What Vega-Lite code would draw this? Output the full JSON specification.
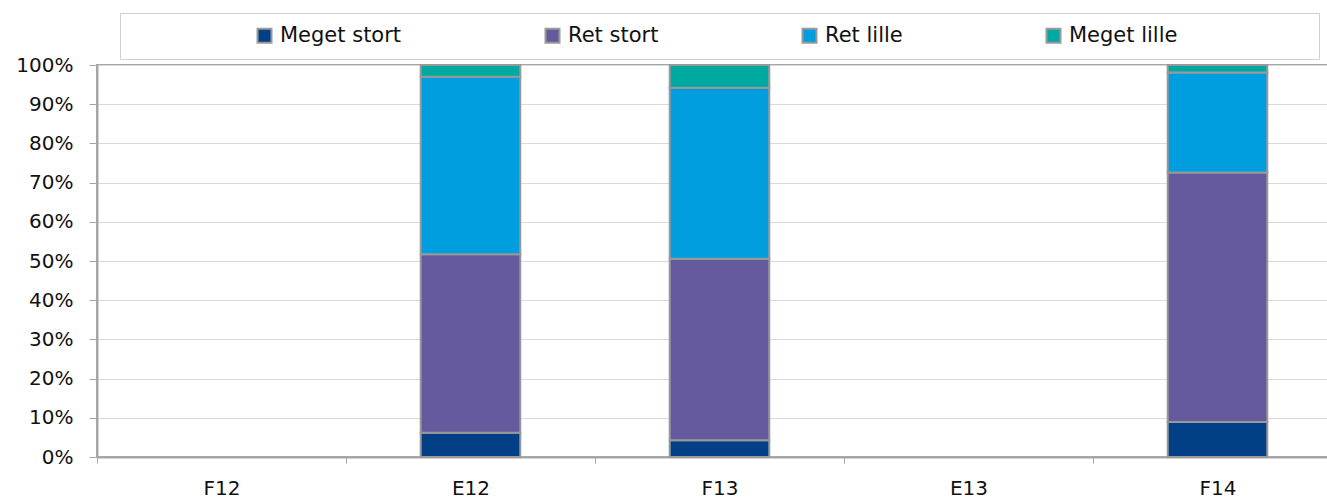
{
  "$schema": "https://vega.github.io/schema/vega-lite/v6.json",
  "autosize": "none",
  "padding": {"left": 97, "top": 65, "right": 0, "bottom": 43},
  "width": 1245,
  "height": 392,
  "background": "white",
  "config": {
    "font": "DejaVu Sans",
    "view": {"stroke": "#a6a6a6", "strokeWidth": 2}
  },
  "data": {
    "values": [
      {"period": "E12", "category": "Meget stort", "value": 0.062},
      {"period": "E12", "category": "Ret stort", "value": 0.455},
      {"period": "E12", "category": "Ret lille", "value": 0.453},
      {"period": "E12", "category": "Meget lille", "value": 0.030},
      {"period": "F13", "category": "Meget stort", "value": 0.043},
      {"period": "F13", "category": "Ret stort", "value": 0.463},
      {"period": "F13", "category": "Ret lille", "value": 0.436},
      {"period": "F13", "category": "Meget lille", "value": 0.058},
      {"period": "F14", "category": "Meget stort", "value": 0.089},
      {"period": "F14", "category": "Ret stort", "value": 0.637},
      {"period": "F14", "category": "Ret lille", "value": 0.255},
      {"period": "F14", "category": "Meget lille", "value": 0.019}
    ]
  },
  "transform": [
    {"calculate": "indexof(['Meget stort','Ret stort','Ret lille','Meget lille'], datum.category)", "as": "order"}
  ],
  "mark": {"type": "bar", "stroke": "#999999", "strokeWidth": 2},
  "encoding": {
    "x": {
      "field": "period",
      "type": "nominal",
      "sort": ["F12", "E12", "F13", "E13", "F14"],
      "scale": {"domain": ["F12", "E12", "F13", "E13", "F14"], "paddingInner": 0.6, "paddingOuter": 0.3},
      "axis": {
        "title": null,
        "labelAngle": 0,
        "labelFont": "DejaVu Sans",
        "labelFontSize": 20,
        "labelColor": "#111111",
        "labelPadding": 15,
        "tickSize": 6,
        "tickColor": "#a6a6a6",
        "tickOffset": -124.5,
        "labelOffset": 124.5,
        "domainColor": "#a6a6a6",
        "domainWidth": 2,
        "grid": false
      }
    },
    "y": {
      "field": "value",
      "type": "quantitative",
      "stack": "zero",
      "scale": {"domain": [0, 1], "nice": false},
      "axis": {
        "title": null,
        "format": ".0%",
        "values": [0, 0.1, 0.2, 0.3, 0.4, 0.5, 0.6, 0.7, 0.8, 0.9, 1],
        "labelFont": "DejaVu Sans",
        "labelFontSize": 20,
        "labelColor": "#111111",
        "labelPadding": 16,
        "tickSize": 8,
        "tickColor": "#a6a6a6",
        "domainColor": "#a6a6a6",
        "domainWidth": 2,
        "gridColor": "#d9d9d9",
        "gridWidth": 1
      }
    },
    "color": {
      "field": "category",
      "type": "nominal",
      "scale": {
        "domain": ["Meget stort", "Ret stort", "Ret lille", "Meget lille"],
        "range": ["#013F86", "#655A9E", "#009DDF", "#00A9A0"]
      },
      "legend": {
        "orient": "none",
        "legendX": 23,
        "legendY": -52,
        "direction": "horizontal",
        "columns": 4,
        "columnPadding": 139,
        "title": " ",
        "titleOrient": "left",
        "titlePadding": 122,
        "padding": 12,
        "strokeColor": "#d0d0d0",
        "fillColor": "white",
        "symbolType": "square",
        "symbolSize": 196,
        "symbolStrokeColor": "#999999",
        "symbolStrokeWidth": 2,
        "symbolOpacity": 1,
        "labelFont": "DejaVu Sans",
        "labelFontSize": 21,
        "labelColor": "#111111",
        "labelOffset": 5,
        "labelLimit": 0,
        "labelExpr": "datum.label == 'Meget lille' ? datum.label + '\u00a0\u00a0\u00a0\u00a0\u00a0\u00a0\u00a0\u00a0\u00a0\u00a0\u00a0\u00a0\u00a0\u00a0\u00a0\u00a0\u00a0\u2800' : datum.label"
      }
    },
    "order": {"field": "order", "type": "quantitative"}
  }
}
